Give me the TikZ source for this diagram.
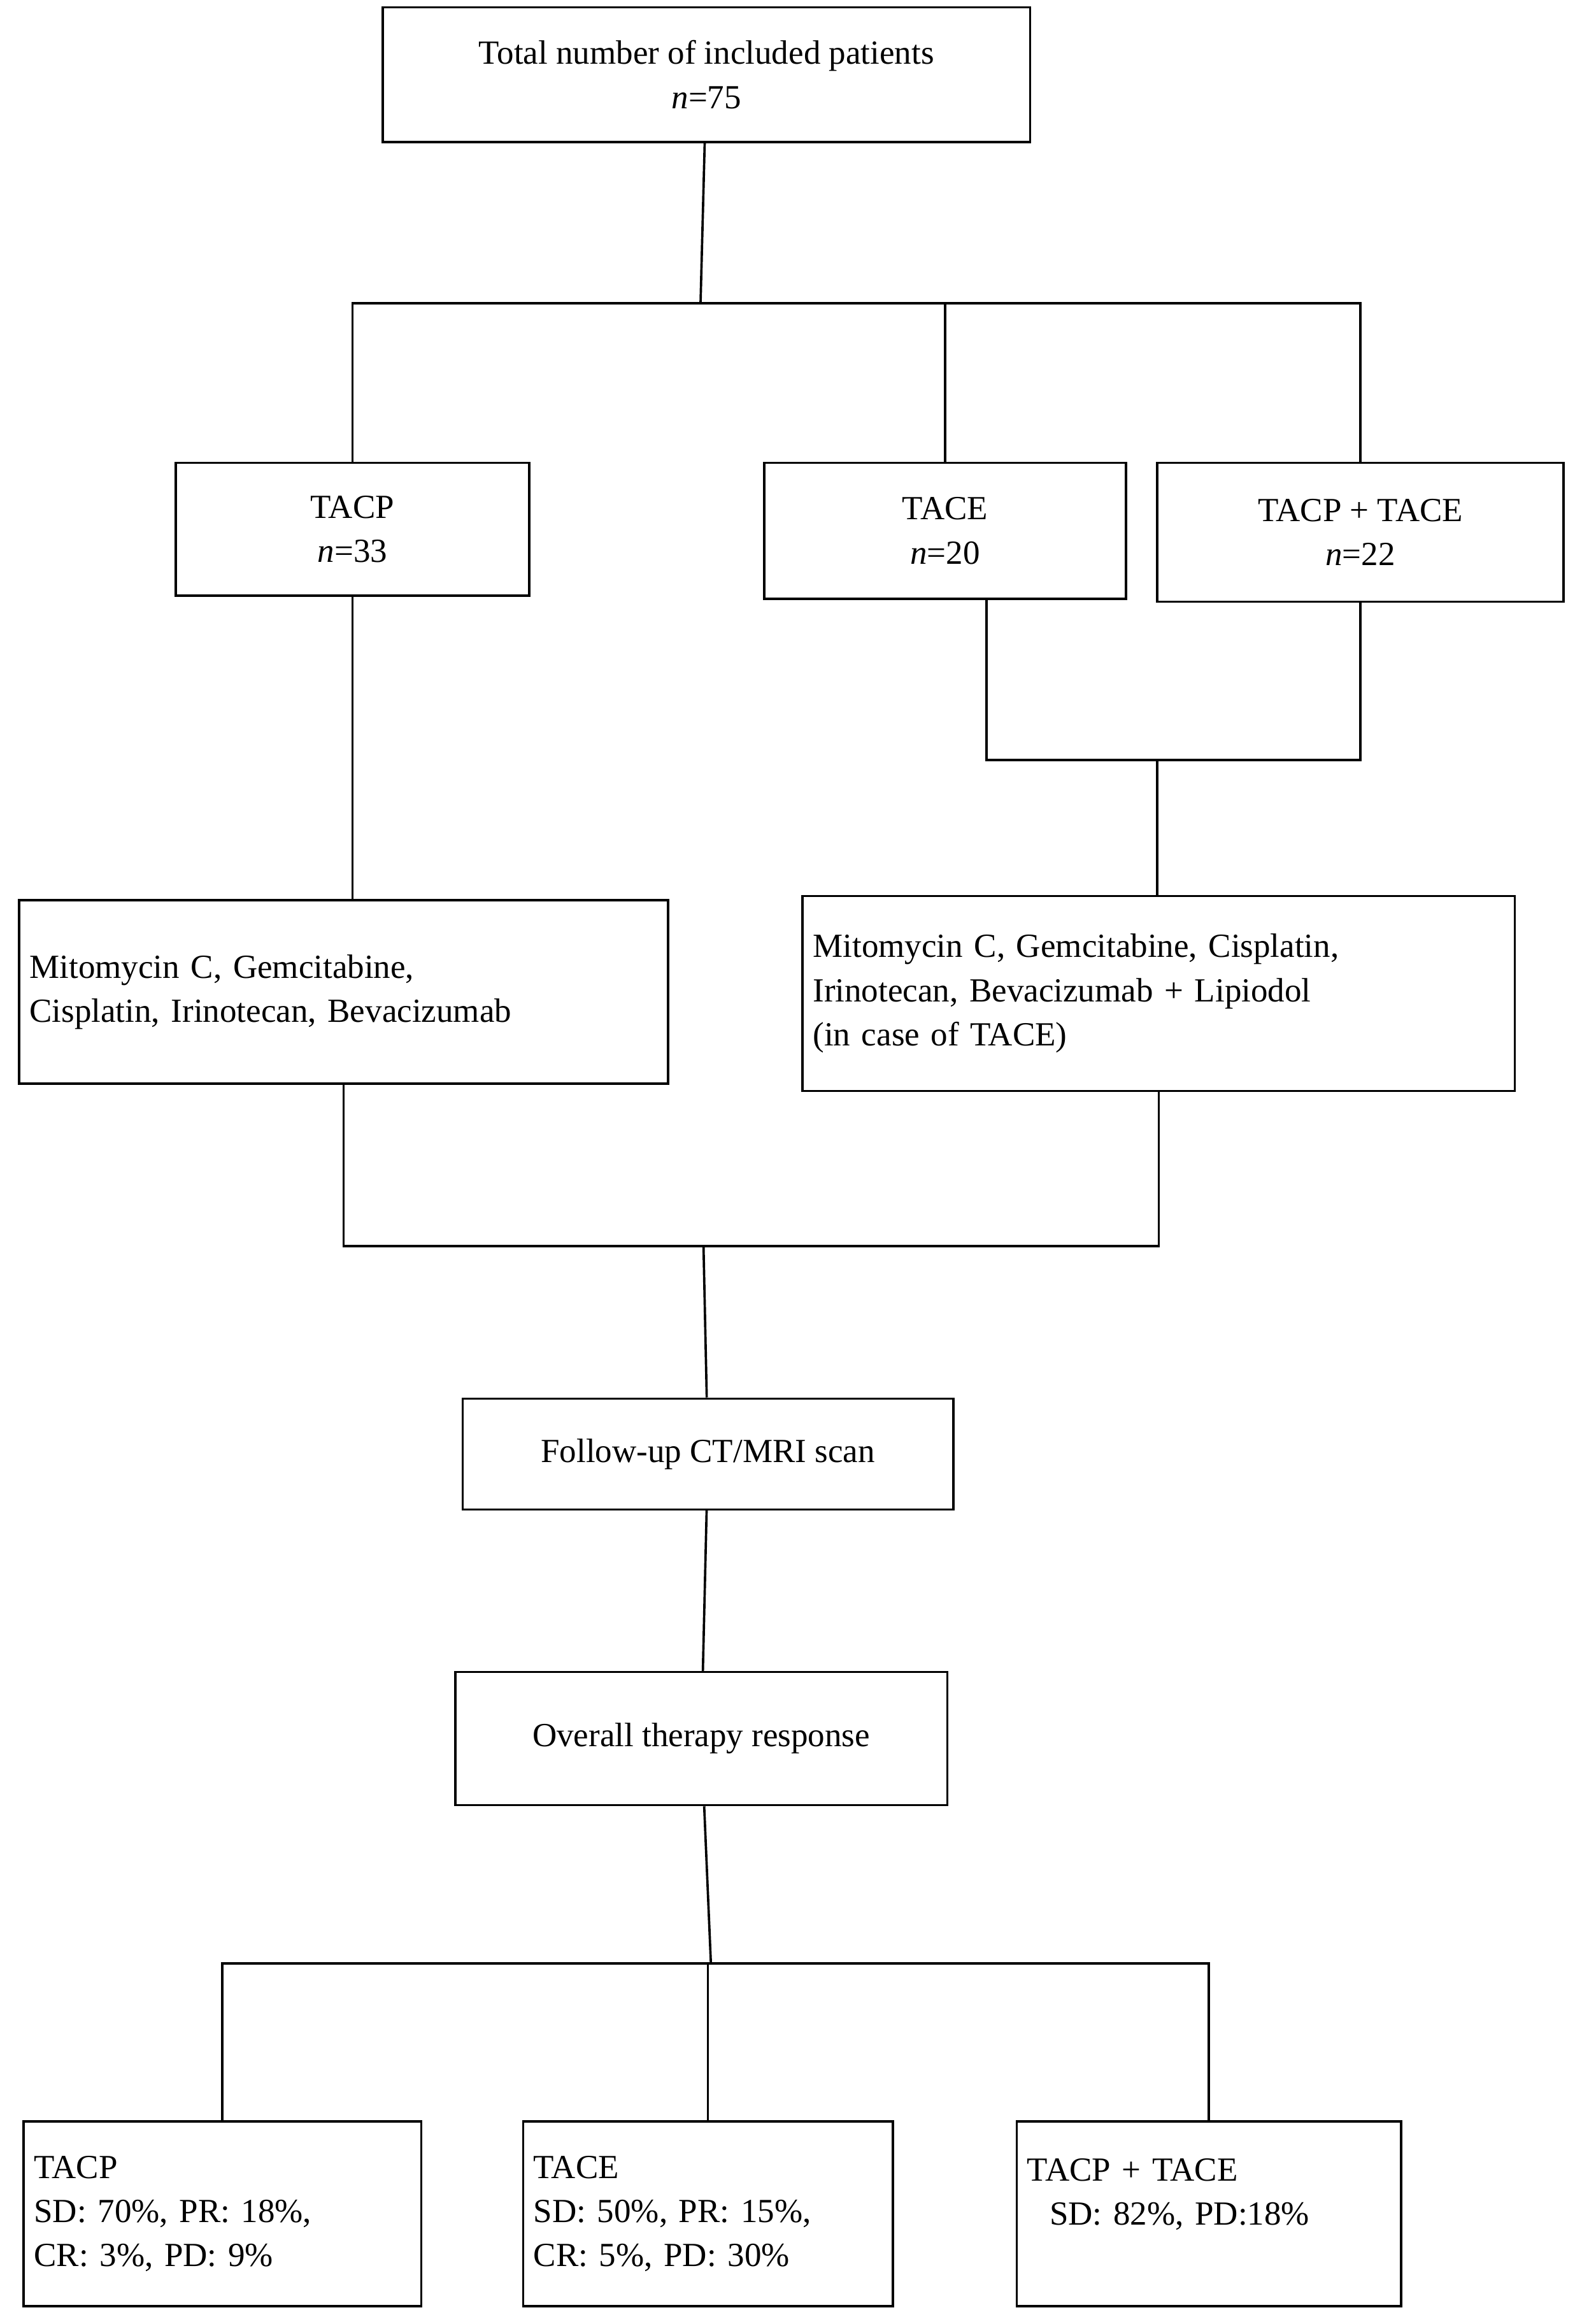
\documentclass[tikz,border=0pt]{standalone}
\usepackage{fontspec}
\setmainfont{Liberation Serif}
\usetikzlibrary{positioning}

\begin{document}
\begin{tikzpicture}[
  x=0.02cm, y=-0.02cm,
  box/.style={rectangle, draw, line width=0.9pt, align=center, inner sep=4pt, font=\fontsize{13}{17}\selectfont},
  lbox/.style={box, align=left, text width=#1},
  link/.style={line width=0.9pt}
  ]
  \useasboundingbox (0,0) rectangle (1075,1572);

  \node[box, minimum width=8.76cm, minimum height=1.82cm] (total) at (478,50.5) {Total number of included patients\\\textit{n}=75};

  \node[box, minimum width=4.78cm, minimum height=1.8cm] (tacp) at (238.5,358) {TACP\\\textit{n}=33};
  \node[box, minimum width=4.9cm, minimum height=1.84cm] (tace) at (639.5,359) {TACE\\\textit{n}=20};
  \node[box, minimum width=5.5cm, minimum height=1.88cm] (combo) at (920.5,360) {TACP + TACE\\\textit{n}=22};

  \node[lbox=8.5cm, minimum height=2.48cm] (drugA) at (232.5,671) {Mitomycin C, Gemcitabine,\\Cisplatin, Irinotecan, Bevacizumab};
  \node[lbox=9.36cm, minimum height=2.64cm] (drugB) at (784,672) {Mitomycin C, Gemcitabine, Cisplatin,\\Irinotecan, Bevacizumab + Lipiodol\\(in case of TACE)};

  \node[box, minimum width=6.64cm, minimum height=1.5cm] (scan) at (479,983.5) {Follow-up CT/MRI scan};
  \node[box, minimum width=6.66cm, minimum height=1.8cm] (resp) at (474.5,1176) {Overall therapy response};

  \node[lbox=5.1cm, minimum height=2.5cm] (resA) at (150.5,1497.5) {TACP\\SD: 70\%, PR: 18\%,\\CR: 3\%, PD: 9\%};
  \node[lbox=4.72cm, minimum height=2.5cm] (resB) at (479,1497.5) {TACE\\SD: 50\%, PR: 15\%,\\CR: 5\%, PD: 30\%};
  \node[lbox=4.92cm, minimum height=2.5cm] (resC) at (818,1497.5) {TACP + TACE\\\ \ SD: 82\%, PD:18\%\\\mbox{}};

  \coordinate (split) at (474,205);
  \coordinate (merge) at (783,514);
  \coordinate (join) at (476,843);
  \coordinate (fork) at (481,1328);

  \draw[link] (total) -- (split);
  \draw[link] (tacp) |- (split) -| (combo);
  \draw[link] (tace.north) -- (tace.north |- split);

  \draw[link] (tacp) -- (tacp.south |- drugA.north);
  \draw[link] ([xshift=0.56cm]tace.south) |- (merge) -| (combo.south);
  \draw[link] (merge) -- (merge |- drugB.north);

  \draw[link] (drugA) |- (join) -| (drugB);
  \draw[link] (join) -- (scan);
  \draw[link] (scan) -- (resp);

  \draw[link] (resp) -- (fork);
  \draw[link] (resA) |- (fork) -| (resC);
  \draw[link] (resB.north) -- (resB.north |- fork);
\end{tikzpicture}
\end{document}
